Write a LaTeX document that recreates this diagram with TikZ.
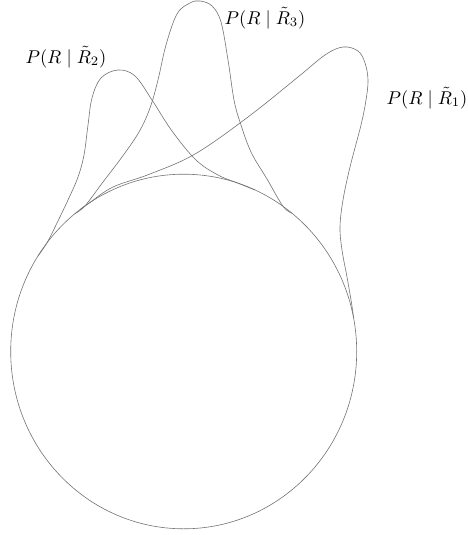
\documentclass[tikz,border=0pt]{standalone}
\begin{document}
\begin{tikzpicture}[x=1pt,y=-1pt,
  curve/.style={draw=black!55, line width=0.6pt, smooth, tension=0.6},
  lbl/.style={inner sep=0pt, scale=1.85}]
\useasboundingbox (0,0) rectangle (467,535);
\draw[black!55, line width=0.6pt] (183.7,351.5) ellipse [x radius=173, y radius=177.3];
% R2
\draw[curve] plot coordinates {(38,256) (47,242.8) (57,223) (68,200) (78,177) (84,155) (88,125) (92,98) (101,78) (118,70) (135,76) (152,100) (172,131) (196,160) (218,175) (238,183.2) (255,190)};
% R3
\draw[curve] plot coordinates {(75,213.6) (85,205.9) (103,182) (122,157) (139,132) (150,108) (158,80) (166,45) (177,14) (190,3) (200,1) (212,6) (221,22) (228,60) (234,100) (240,122) (251,152) (267,179) (283,206.3) (292,213.2)};
% R1
\draw[curve] plot coordinates {(80,209.6) (90,202.5) (113,187) (150,174) (195,154) (248,117) (298,77) (325,55) (343,47) (358,51) (365,63) (368,80) (366,100) (361,125) (350,167) (343,200) (340,227) (342,250) (347,277) (351.5,303) (353.6,318)};
\node[lbl] (l2) at (66,57) {$P(R\mid\tilde{R}_2)$};
\node[lbl] (l3) at (265,18) {$P(R\mid\tilde{R}_3)$};
\node[lbl] (l1) at (427,98) {$P(R\mid\tilde{R}_1)$};
\end{tikzpicture}
\end{document}
